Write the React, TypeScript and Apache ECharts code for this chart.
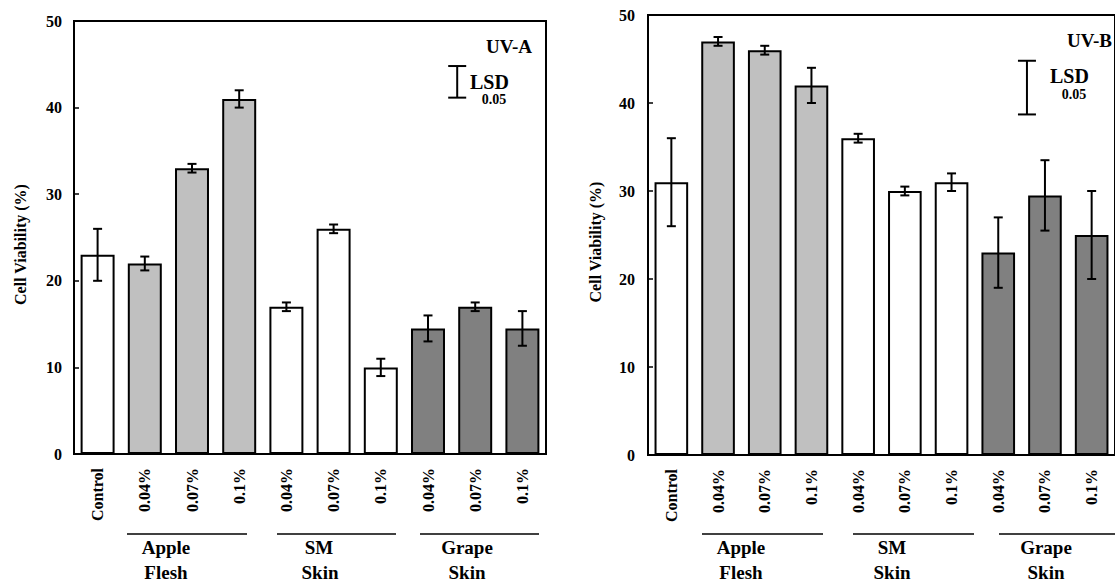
import React, { useEffect, useRef } from "react";
import * as echarts from "echarts";

const categories = ["Control", "0.04%", "0.07%", "0.1%", "0.04%", "0.07%", "0.1%", "0.04%", "0.07%", "0.1%"];
const groupOfBar = ["control", "af", "af", "af", "sm", "sm", "sm", "gs", "gs", "gs"];
const uvaValues = [23, 22, 33, 41, 17, 26, 10, 14.5, 17, 14.5];
const uvaErrors = [3, 0.8, 0.5, 1, 0.5, 0.5, 1, 1.5, 0.5, 2];
const uvbValues = [31, 47, 46, 42, 36, 30, 31, 23, 29.5, 25];
const uvbErrors = [5, 0.5, 0.5, 2, 0.5, 0.5, 1, 4, 4, 5];
const lsdA = [44.8, 41.15];
const lsdB = [44.8, 38.7];
const yTicks = { min: 0, max: 50, interval: 10 };
const groupLabels = [["Apple", "Flesh"], ["SM", "Skin"], ["Grape", "Skin"]];
const panelTitles = ["UV-A", "UV-B"];
const yName = "Cell Viability (%)";

const groupColors: Record<string, string> = {
  control: "#ffffff",
  af: "#c0c0c0",
  sm: "#ffffff",
  gs: "#808080",
};

const FONT = "'Liberation Serif', 'Times New Roman', serif";

function errRender(params: any, api: any) {
  const x = api.value(0);
  const lo = api.value(1);
  const hi = api.value(2);
  const pHi = api.coord([x, hi]);
  const pLo = api.coord([x, lo]);
  const w = 4.5;
  const st = { stroke: "#000", lineWidth: 2 };
  return {
    type: "group",
    children: [
      { type: "line", shape: { x1: pHi[0], y1: pHi[1], x2: pLo[0], y2: pLo[1] }, style: st },
      { type: "line", shape: { x1: pHi[0] - w, y1: pHi[1], x2: pHi[0] + w, y2: pHi[1] }, style: st },
      { type: "line", shape: { x1: pLo[0] - w, y1: pLo[1], x2: pLo[0] + w, y2: pLo[1] }, style: st },
    ],
  };
}

function lsdRender(offset: number) {
  return (params: any, api: any) => {
    const x = api.value(0);
    const hi = api.value(1);
    const lo = api.value(2);
    const pHi = api.coord([x, hi]);
    const pLo = api.coord([x, lo]);
    const cx = pHi[0] + offset;
    const w = 9;
    const st = { stroke: "#000", lineWidth: 2 };
    return {
      type: "group",
      children: [
        { type: "line", shape: { x1: cx, y1: pHi[1], x2: cx, y2: pLo[1] }, style: st },
        { type: "line", shape: { x1: cx - w, y1: pHi[1], x2: cx + w, y2: pHi[1] }, style: st },
        { type: "line", shape: { x1: cx - w, y1: pLo[1], x2: cx + w, y2: pLo[1] }, style: st },
      ],
    };
  };
}

function barData(values: number[]) {
  return values.map((v, i) => ({
    value: v,
    itemStyle: { color: groupColors[groupOfBar[i]], borderColor: "#000", borderWidth: 2 },
  }));
}

function errData(values: number[], errs: number[]) {
  return values.map((v, i) => [i, v - errs[i], v + errs[i]]);
}

function xAxis(gridIndex: number) {
  return {
    type: "category",
    gridIndex,
    data: categories,
    boundaryGap: true,
    axisLine: { lineStyle: { color: "#000", width: 2 } },
    axisTick: { inside: true, length: 4, interval: 0, lineStyle: { color: "#000", width: 1 } },
    axisLabel: {
      rotate: 90,
      interval: 0,
      margin: 14,
      color: "#000",
      fontFamily: FONT,
      fontWeight: "bold",
      fontSize: 16,
    },
    splitLine: { show: false },
  };
}

function yAxis(gridIndex: number, nameGap: number, margin: number) {
  return {
    type: "value",
    gridIndex,
    min: yTicks.min,
    max: yTicks.max,
    interval: yTicks.interval,
    name: yName,
    nameLocation: "middle",
    nameGap,
    nameRotate: 90,
    nameTextStyle: {
      color: "#000",
      fontFamily: FONT,
      fontWeight: "bold",
      fontSize: 16,
      padding: [0, 14, 0, 0],
    },
    axisLine: { show: true, lineStyle: { color: "#000", width: 2 } },
    axisTick: { show: true, inside: true, length: 5, lineStyle: { color: "#000", width: 1.5 } },
    axisLabel: {
      margin,
      color: "#000",
      fontFamily: FONT,
      fontWeight: "bold",
      fontSize: 16,
    },
    splitLine: { show: false },
  };
}

function txt(text: string, x: number, y: number, size: number, align = "center") {
  return {
    type: "text",
    x,
    y,
    style: {
      text,
      fill: "#000",
      font: `bold ${size}px ${FONT}`,
      align,
      verticalAlign: "middle",
    },
  };
}

function hline(x1: number, x2: number, y: number) {
  return {
    type: "line",
    shape: { x1, y1: y, x2, y2: y },
    style: { stroke: "#000", lineWidth: 1.5 },
  };
}

export default function App() {
  const ref = useRef<HTMLDivElement>(null);
  useEffect(() => {
    if (!ref.current) return;
    const chart = echarts.init(ref.current, null, { renderer: "svg" });
    const y1 = 547;
    const y2 = 572;
    const gs = 19;
    const graphics: any[] = [
      // left panel
      txt(panelTitles[0], 532, 46, 19, "right"),
      txt("LSD", 470, 82, 20, "left"),
      txt("0.05", 494, 99, 14, "center"),
      hline(127, 247, 534),
      hline(277, 396, 534),
      hline(420, 539, 534),
      txt(groupLabels[0][0], 166, y1, gs),
      txt(groupLabels[0][1], 166, y2, gs),
      txt(groupLabels[1][0], 319, y1, gs),
      txt(groupLabels[1][1], 320, y2, gs),
      txt(groupLabels[2][0], 467, y1, gs),
      txt(groupLabels[2][1], 467, y2, gs),
      // right panel
      txt(panelTitles[1], 1112, 40, 19, "right"),
      txt("LSD", 1050, 76, 20, "left"),
      txt("0.05", 1074, 94, 14, "center"),
      hline(702, 823, 534),
      hline(853, 974, 534),
      hline(999, 1120, 534),
      txt(groupLabels[0][0], 741, y1, gs),
      txt(groupLabels[0][1], 741, y2, gs),
      txt(groupLabels[1][0], 892, y1, gs),
      txt(groupLabels[1][1], 892, y2, gs),
      txt(groupLabels[2][0], 1046, y1, gs),
      txt(groupLabels[2][1], 1046, y2, gs),
    ];
    chart.setOption({
      animation: false,
      backgroundColor: "#fff",
      grid: [
        { left: 74, top: 21, width: 472, height: 433, show: true, borderColor: "#000", borderWidth: 2, backgroundColor: "transparent" },
        { left: 648, top: 15, width: 474, height: 440, show: true, borderColor: "#000", borderWidth: 2, backgroundColor: "transparent" },
      ],
      xAxis: [xAxis(0), xAxis(1)],
      yAxis: [yAxis(0, 46, 12), yAxis(1, 45, 13)],
      series: [
        {
          type: "bar",
          xAxisIndex: 0,
          yAxisIndex: 0,
          barWidth: "72%",
          data: barData(uvaValues),
          z: 2,
        },
        {
          type: "custom",
          xAxisIndex: 0,
          yAxisIndex: 0,
          renderItem: errRender,
          encode: { x: 0, y: [1, 2] },
          data: errData(uvaValues, uvaErrors),
          z: 3,
        },
        {
          type: "custom",
          xAxisIndex: 0,
          yAxisIndex: 0,
          renderItem: lsdRender(-18),
          encode: { x: 0, y: [1, 2] },
          data: [[8, lsdA[0], lsdA[1]]],
          z: 3,
        },
        {
          type: "bar",
          xAxisIndex: 1,
          yAxisIndex: 1,
          barWidth: "72%",
          data: barData(uvbValues),
          z: 2,
        },
        {
          type: "custom",
          xAxisIndex: 1,
          yAxisIndex: 1,
          renderItem: errRender,
          encode: { x: 0, y: [1, 2] },
          data: errData(uvbValues, uvbErrors),
          z: 3,
        },
        {
          type: "custom",
          xAxisIndex: 1,
          yAxisIndex: 1,
          renderItem: lsdRender(-18),
          encode: { x: 0, y: [1, 2] },
          data: [[8, lsdB[0], lsdB[1]]],
          z: 3,
        },
      ],
      graphic: graphics,
    });
    return () => chart.dispose();
  }, []);
  return (
    <div
      ref={ref}
      style={{ position: "fixed", left: 0, top: 0, width: 1115, height: 583, background: "#fff" }}
    />
  );
}
